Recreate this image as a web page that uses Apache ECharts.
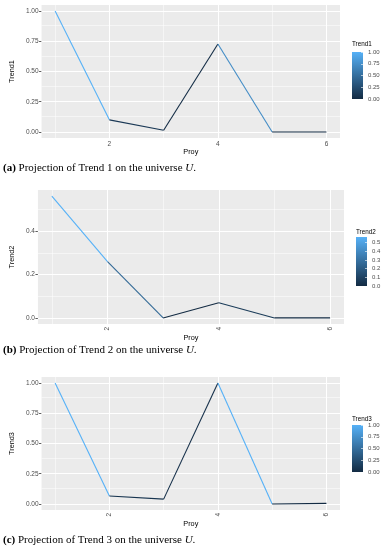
<!DOCTYPE html>
<html>
<head>
<meta charset="utf-8">
<script src="https://cdn.jsdelivr.net/npm/echarts@6/dist/echarts.min.js"></script>
<style>html,body{margin:0;padding:0;background:#fff;}#c{width:387px;height:550px;}</style>
</head>
<body>
<div id="c"></div>
<script>
// ---- data ----
const proy = [1, 2, 3, 4, 5, 6];
const trend1 = [1.00, 0.10, 0.014, 0.728, 0.0, 0.0];
const trend2 = [0.563, 0.26, 0.0, 0.07, 0.0, 0.0];
const trend3 = [1.00, 0.066, 0.04, 1.00, 0.0, 0.005];
const xTickLabels = [2, 4, 6];
const xMinorTicks = [1, 3, 5];
const yTicks1 = [0, 0.25, 0.5, 0.75, 1];
const yTicks2 = [0, 0.2, 0.4];
const yTicks3 = [0, 0.25, 0.5, 0.75, 1];
const barTicks1 = [0, 0.25, 0.5, 0.75, 1];
const barTicks2 = [0, 0.1, 0.2, 0.3, 0.4, 0.5];
const barTicks3 = [0, 0.25, 0.5, 0.75, 1];
const names = ['Trend1', 'Trend2', 'Trend3'];
const captions = [
  ['(a)', 'Projection of Trend 1 on the universe ', 'U', '.'],
  ['(b)', 'Projection of Trend 2 on the universe ', 'U', '.'],
  ['(c)', 'Projection of Trend 3 on the universe ', 'U', '.']
];

// ---- layout / style ----
const LOW = [19, 43, 67], HIGH = [86, 177, 247];
function grad(t) {
  const c = LOW.map((l, i) => Math.round(l + (HIGH[i] - l) * t));
  return 'rgb(' + c.join(',') + ')';
}
const panels = [
  { vals: trend1, yTicks: yTicks1, barTicks: barTicks1, dec: 2,
    grid: { left: 33, top: 5, width: 307, height: 133 }, rot: 0, xGap: 8, yGap: 18,
    bar: { left: 352, top: 52, width: 11, height: 47 }, titleTop: 41, capTop: 163 },
  { vals: trend2, yTicks: yTicks2, barTicks: barTicks2, dec: 1,
    grid: { left: 28, top: 190, width: 316, height: 134 }, rot: 90, xGap: 9, yGap: 14,
    bar: { left: 356, top: 237, width: 11, height: 49 }, titleTop: 229, capTop: 345 },
  { vals: trend3, yTicks: yTicks3, barTicks: barTicks3, dec: 2,
    grid: { left: 33, top: 377, width: 307, height: 133 }, rot: 90, xGap: 9, yGap: 18,
    bar: { left: 352, top: 425, width: 11, height: 47 }, titleTop: 416, capTop: 535 }
];

const grid = [], xAxis = [], yAxis = [], series = [], graphic = [];
const labelColor = '#4d4d4d', tickColor = '#333333';

panels.forEach((p, k) => {
  const vmax = Math.max(...p.vals), vmin = Math.min(...p.vals);
  const span = vmax - vmin;
  const lo = vmin - 0.05 * span, hi = vmax + 0.05 * span;
  const gi = grid.length;
  grid.push(Object.assign({ show: true, backgroundColor: '#EBEBEB', borderWidth: 0 }, p.grid));
  xAxis.push({
    type: 'value', gridIndex: gi, min: 0.75, max: 6.25,
    axisLine: { show: false }, splitLine: { show: false },
    axisTick: { show: true, customValues: xTickLabels, length: 2.5, lineStyle: { color: tickColor, width: 0.8 } },
    axisLabel: { customValues: xTickLabels, fontSize: 6.5, color: labelColor, margin: 3, rotate: p.rot, fontFamily: 'Liberation Sans' },
    name: 'Proy', nameLocation: 'middle', nameGap: p.xGap,
    nameTextStyle: { fontSize: 7.3, color: '#000', fontFamily: 'Liberation Sans', verticalAlign: 'top' }
  });
  yAxis.push({
    type: 'value', gridIndex: gi, min: lo, max: hi,
    axisLine: { show: false }, splitLine: { show: false },
    axisTick: { show: true, customValues: p.yTicks, length: 2.5, lineStyle: { color: tickColor, width: 0.8 } },
    axisLabel: { customValues: p.yTicks, formatter: v => v.toFixed(p.dec), fontSize: 6.5, color: labelColor, margin: 3, fontFamily: 'Liberation Sans' },
    name: names[k], nameLocation: 'middle', nameRotate: 90, nameGap: p.yGap,
    nameTextStyle: { fontSize: 7.3, color: '#000', fontFamily: 'Liberation Sans' }
  });
  // grid lines via markLine
  const minorY = [];
  for (let i = 0; i < p.yTicks.length; i++) {
    const step = p.yTicks[1] - p.yTicks[0];
    const m = p.yTicks[i] + step / 2;
    if (m < hi) minorY.push(m);
    if (i === 0 && p.yTicks[0] - step / 2 > lo) minorY.push(p.yTicks[0] - step / 2);
  }
  const ml = [];
  xMinorTicks.forEach(v => ml.push({ xAxis: v, lineStyle: { color: '#fff', width: 0.5, type: 'solid', opacity: 1 } }));
  minorY.forEach(v => ml.push({ yAxis: v, lineStyle: { color: '#fff', width: 0.5, type: 'solid', opacity: 1 } }));
  xTickLabels.forEach(v => ml.push({ xAxis: v, lineStyle: { color: '#fff', width: 1.1, type: 'solid', opacity: 1 } }));
  p.yTicks.forEach(v => ml.push({ yAxis: v, lineStyle: { color: '#fff', width: 1.1, type: 'solid', opacity: 1 } }));
  series.push({
    type: 'line', xAxisIndex: gi, yAxisIndex: gi, z: 1,
    data: proy.map((x, i) => [x, p.vals[i]]), symbol: 'none',
    lineStyle: { opacity: 0, width: 0 }, silent: true, animation: false,
    markLine: { silent: true, symbol: 'none', label: { show: false }, animation: false, data: ml }
  });
  // segments coloured by start value
  for (let i = 0; i < proy.length - 1; i++) {
    const t = span > 0 ? (p.vals[i] - vmin) / span : 0;
    series.push({
      type: 'line', xAxisIndex: gi, yAxisIndex: gi, z: 10,
      data: [[proy[i], p.vals[i]], [proy[i + 1], p.vals[i + 1]]],
      symbol: 'none', silent: true, animation: false,
      lineStyle: { color: grad(t), width: 1.1 }
    });
  }
  // colour bar
  const bi = grid.length;
  grid.push(Object.assign({ show: false }, p.bar));
  xAxis.push({ type: 'category', gridIndex: bi, data: ['c'], show: false });
  yAxis.push({
    type: 'value', gridIndex: bi, min: vmin, max: vmax, position: 'right', z: 5,
    axisLine: { show: false }, splitLine: { show: false },
    axisTick: { show: true, inside: true, customValues: p.barTicks, length: 2, lineStyle: { color: '#fff', width: 0.6 } },
    axisLabel: { customValues: p.barTicks, formatter: v => v.toFixed(p.dec), fontSize: 6, color: labelColor, margin: 5, fontFamily: 'Liberation Sans' }
  });
  series.push({
    type: 'bar', xAxisIndex: bi, yAxisIndex: bi, data: [vmax], barWidth: '100%', silent: true, animation: false,
    itemStyle: { color: new echarts.graphic.LinearGradient(0, 0, 0, 1, [{ offset: 0, color: grad(1) }, { offset: 1, color: grad(0) }]) }
  });
  graphic.push({
    type: 'text', left: p.bar.left, top: p.titleTop,
    style: { text: names[k], fontSize: 6.3, fill: '#000', fontFamily: 'Liberation Sans' }
  });
  const cp = captions[k];
  graphic.push({
    type: 'text', left: 3, top: p.capTop,
    style: {
      text: '{b|' + cp[0] + '} {n|' + cp[1] + '}{i|' + cp[2] + '}{n|' + cp[3] + '}',
      rich: {
        b: { fontWeight: 'bold', fontSize: 11, fontFamily: 'Liberation Serif', fill: '#000' },
        n: { fontSize: 11, fontFamily: 'Liberation Serif', fill: '#000' },
        i: { fontStyle: 'italic', fontSize: 11, fontFamily: 'Liberation Serif', fill: '#000' }
      },
      fontSize: 11, fontFamily: 'Liberation Serif', fill: '#000'
    }
  });
});

const chart = echarts.init(document.getElementById('c'), null, { renderer: 'canvas' });
chart.setOption({ backgroundColor: '#fff', animation: false, grid, xAxis, yAxis, series, graphic });
</script>
</body>
</html>
